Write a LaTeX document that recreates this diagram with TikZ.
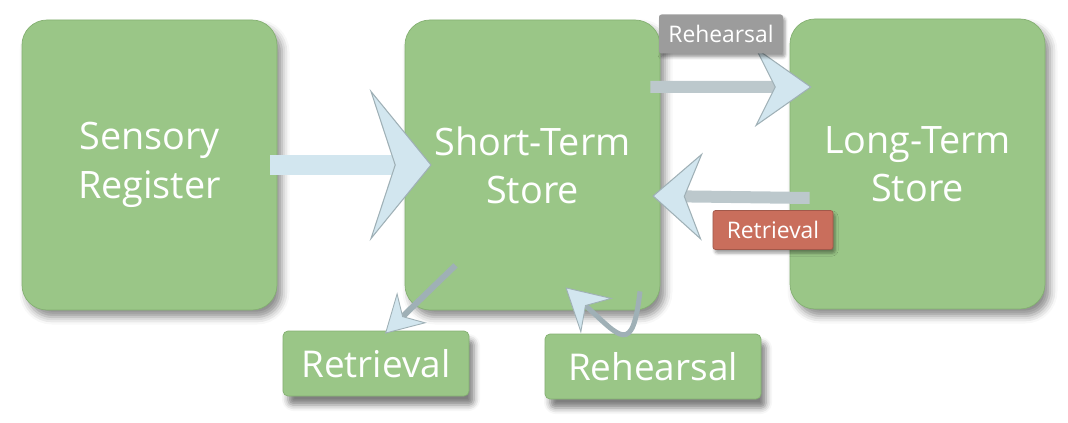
\documentclass[tikz,border=0pt]{standalone}
\usepackage{fontspec}
\setmainfont{Open Sans}
\usetikzlibrary{arrows.meta, shadows.blur, calc}

\definecolor{boxgreen}{HTML}{9AC687}
\definecolor{boxedge}{HTML}{84B072}
\definecolor{arrowblue}{HTML}{D2E6EF}
\definecolor{arrowedge}{HTML}{9FB0B6}
\definecolor{taggray}{HTML}{9C9C9C}
\definecolor{tagred}{HTML}{C96E5C}

\tikzset{
    memstore/.style={draw=boxedge, fill=boxgreen, rounded corners=0.5cm, minimum width=5.1cm, minimum height=5.8cm,
        align=center, text=white, font=\fontsize{21.5}{27.5}\selectfont,
        blur shadow={shadow xshift=0.1cm, shadow yshift=-0.14cm, shadow opacity=45, shadow blur radius=0.15cm}},
    process/.style={draw=boxedge, fill=boxgreen, rounded corners=0.1cm, minimum height=1.3cm,
        text=white, font=\fontsize{21}{25}\selectfont,
        blur shadow={shadow xshift=0.1cm, shadow yshift=-0.18cm, shadow opacity=50, shadow blur radius=0.12cm}},
    tag/.style={rounded corners=0.05cm, minimum height=0.78cm, inner xsep=2pt, text=white, font=\fontsize{13}{15}\selectfont,
        blur shadow={shadow xshift=0.04cm, shadow yshift=-0.07cm, shadow opacity=40, shadow blur radius=0.06cm}},
    flowarrow/.style={draw=arrowblue, line width=#1},
}

\begin{document}
\begin{tikzpicture}
    \useasboundingbox (0,0) rectangle (21.36,-8.46);

    % The three stores
    \node[memstore] (sr) at (2.99,-3.30) {Sensory\\Register};
    \node[memstore] (sts) at (10.65,-3.30) {Short-Term\\Store};
    \node[memstore] (lts) at (18.35,-3.28) {Long-Term\\Store};

    % Processes below the short-term store
    \node[process, minimum width=3.72cm] (ret) at (7.52,-7.27) {Retrieval};
    \node[process, minimum width=4.32cm] (reh) at (13.06,-7.33) {Rehearsal};

    % Sensory register into short-term store
    \draw[flowarrow=0.4cm, -{Stealth[length=1.24cm, width=3.04cm, inset=0.5cm, color=arrowedge, fill=arrowblue, line width=0.6pt]}]
        ([xshift=-0.14cm]sr.east) -- ([xshift=0.54cm]sts.west);

    % Short-term store to long-term store
    \draw[flowarrow=0.24cm, draw=arrowedge!70, -{Stealth[length=1.14cm, width=1.6cm, inset=0.4cm, color=arrowedge, fill=arrowblue, line width=0.6pt]}]
        ([xshift=-0.2cm, yshift=1.56cm]sts.east) -- ([xshift=0.44cm, yshift=1.54cm]lts.west);

    % Long-term store back to short-term store
    \draw[flowarrow=0.24cm, draw=arrowedge!70, -{Stealth[length=1.0cm, width=1.76cm, inset=0.35cm, color=arrowedge, fill=arrowblue, line width=0.6pt]}]
        ([xshift=0.4cm, yshift=-0.68cm]lts.west) -- ([xshift=-0.16cm, yshift=-0.62cm]sts.east);

    % Short-term store down to retrieval
    \draw[flowarrow=0.12cm, draw=arrowedge, -{Stealth[length=0.75cm, width=0.85cm, inset=0.25cm, color=arrowedge, fill=arrowblue, line width=0.5pt]}]
        ([shift={(-1.54,0.9)}]sts.south) -- ([shift={(0.18,-0.06)}]ret.north);

    % Rehearsal loops back into the store
    \coordinate (loopstart) at ([shift={(2.15,0.38)}]sts.south);
    \coordinate (loopend) at ([shift={(0.66,0.46)}]sts.south);
    \draw[flowarrow=0.1cm, draw=arrowedge, -{Stealth[length=0.85cm, width=0.95cm, inset=0.3cm, color=arrowedge, fill=arrowblue, line width=0.5pt]}]
        (loopstart) .. controls +(-0.15,-1.3) and +(1.1,-1.0) .. (loopend);

    % Labels on the arrows between the stores
    \node[tag, fill=taggray, minimum width=2.48cm] (rehtag) at (14.42,-0.68) {Rehearsal};
    \node[tag, fill=tagred, draw=tagred!80!black, minimum width=2.4cm] (rettag) at (15.46,-4.6) {Retrieval};
\end{tikzpicture}
\end{document}
